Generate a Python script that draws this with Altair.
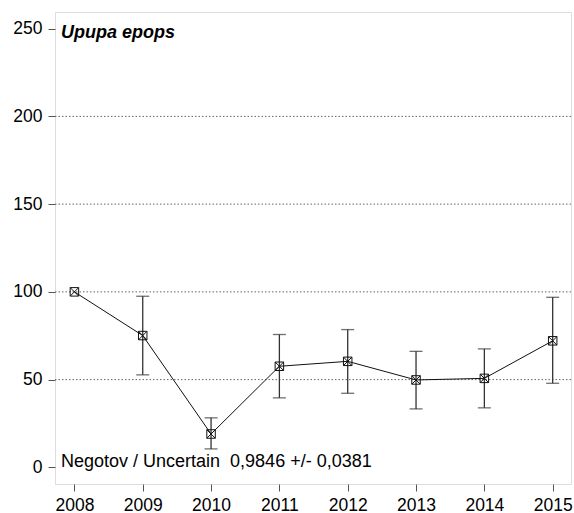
import altair as alt
import pandas as pd

# Population index per year with its lower and upper confidence limits
years = [2008, 2009, 2010, 2011, 2012, 2013, 2014, 2015]
index = [100.0, 75.1, 19.0, 57.6, 60.4, 49.8, 50.7, 72.1]
lower = [100.0, 52.7, 10.5, 39.6, 42.2, 33.3, 33.9, 47.9]
upper = [100.0, 97.5, 28.2, 75.7, 78.5, 66.1, 67.5, 96.9]
gridlines = [50, 100, 150, 200]
y_ticks = [0, 50, 100, 150, 200, 250]
species = "Upupa epops"
trend_text = "Negotov / Uncertain\u00a0\u00a00,9846 +/- 0,0381"

df = pd.DataFrame({"year": years, "index": index, "lower": lower, "upper": upper})
df_err = df[df["year"] != 2008]
grid_df = pd.DataFrame({"g": gridlines})

FONT = "Liberation Sans"

x_scale = alt.Scale(domain=[2007.716, 2015.268], nice=False, zero=False)
y_scale = alt.Scale(domain=[-9.5, 259.5], nice=False, zero=False)

x_axis = alt.Axis(
    values=years, format="d", title=None, grid=False, domain=False,
    tickSize=7, tickColor="#555555", labelPadding=5, labelFontSize=17.5,
    labelColor="#000000", labelFont=FONT,
)
y_axis = alt.Axis(
    values=y_ticks, title=None, grid=False, domain=False,
    tickSize=7, tickColor="#555555", labelPadding=6, labelFontSize=17.5,
    labelColor="#000000", labelFont=FONT,
)

base = alt.Chart(df)

grid = alt.Chart(grid_df).mark_rule(
    color="#666666", strokeDash=[1.5, 2], strokeWidth=1
).encode(y=alt.Y("g:Q", scale=y_scale, axis=y_axis))

err = alt.Chart(df_err).mark_rule(color="#333333", strokeWidth=1.3).encode(
    x=alt.X("year:Q", scale=x_scale, axis=x_axis),
    y=alt.Y("lower:Q", scale=y_scale, axis=y_axis),
    y2="upper:Q",
)
cap_lo = alt.Chart(df_err).mark_tick(
    color="#333333", thickness=1.3, size=13, orient="horizontal"
).encode(x=alt.X("year:Q", scale=x_scale), y=alt.Y("lower:Q", scale=y_scale))
cap_hi = alt.Chart(df_err).mark_tick(
    color="#333333", thickness=1.3, size=13, orient="horizontal"
).encode(x=alt.X("year:Q", scale=x_scale), y=alt.Y("upper:Q", scale=y_scale))

line = base.mark_line(color="#111111", strokeWidth=1).encode(
    x=alt.X("year:Q", scale=x_scale), y=alt.Y("index:Q", scale=y_scale)
)

points = base.mark_point(
    shape="M-1,-1H1V1H-1Z M-1,-1L1,1 M-1,1L1,-1",
    size=72, filled=False, color="#111111", strokeWidth=1, opacity=1,
).encode(x=alt.X("year:Q", scale=x_scale), y=alt.Y("index:Q", scale=y_scale))

title_text = alt.Chart(pd.DataFrame({"t": [species]})).mark_text(
    align="left", baseline="alphabetic", font=FONT, fontSize=18,
    fontWeight="bold", fontStyle="italic", color="#000000",
).encode(text="t:N", x=alt.value(6), y=alt.value(25.5))

trend = alt.Chart(pd.DataFrame({"t": [trend_text]})).mark_text(
    align="left", baseline="alphabetic", font=FONT, fontSize=18,
    color="#000000",
).encode(text="t:N", x=alt.value(6), y=alt.value(455))

chart = (
    alt.layer(grid, err, cap_lo, cap_hi, line, points, title_text, trend)
    .resolve_axis(y="shared")
    .properties(
        width=516, height=472,
        autosize=alt.AutoSizeParams(type="none"),
        padding={"left": 55, "top": 12, "right": 3, "bottom": 29},
    )
    .configure_view(stroke="#c8c8c8", strokeWidth=1.3)
    .configure(background="white")
)

chart.save("out.html", embed_options={"renderer": "svg", "actions": False})
